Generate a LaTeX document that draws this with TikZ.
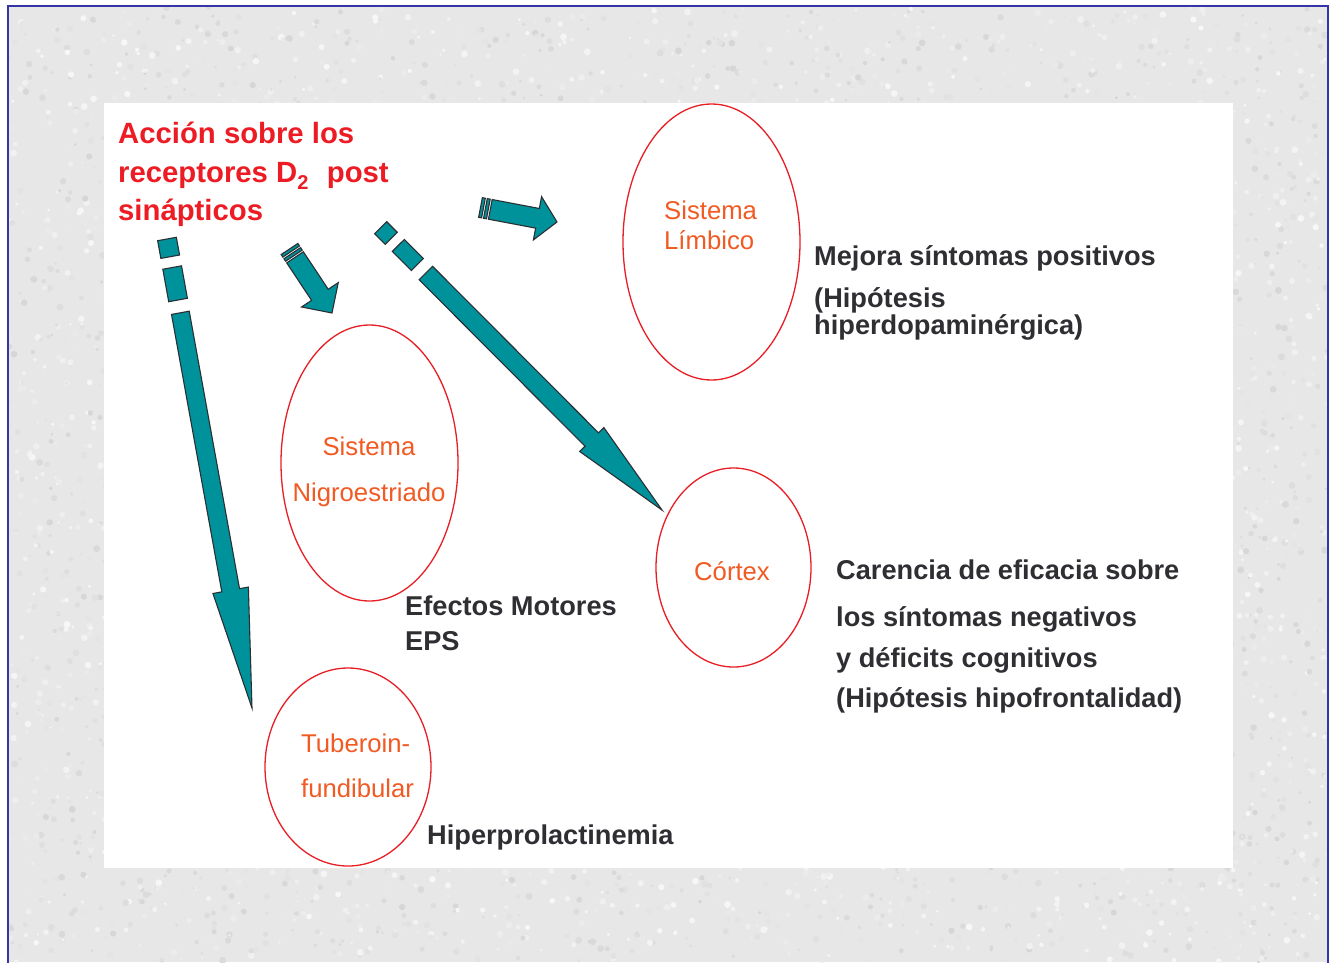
\documentclass[tikz,border=0pt]{standalone}
\usepackage{fontspec}
\setmainfont{Liberation Sans}
\usetikzlibrary{calc,shapes.geometric}
\definecolor{bgtex}{HTML}{E7E7E7}
\definecolor{frameblue}{HTML}{3535A8}
\definecolor{titlered}{HTML}{ED1C24}
\definecolor{orangetxt}{HTML}{F15A22}
\definecolor{darktxt}{HTML}{2E2E33}
\definecolor{ellred}{HTML}{E81E25}
\definecolor{tealfill}{HTML}{00929B}
\definecolor{arrline}{HTML}{2B2F33}
\tikzset{
  arr/.style={fill=tealfill, draw=arrline, line width=1.1pt, line join=miter},
  region/.style={ellipse, draw=ellred, line width=1.3pt, inner sep=0pt},
  orangelbl/.style={text=orangetxt, font=\fontsize{25.7}{25.7}\selectfont, inner sep=0pt},
  darklbl/.style={text=darktxt, font=\fontsize{27.2}{27.2}\selectfont\bfseries, inner sep=0pt, anchor=base west},
  titlelbl/.style={text=titlered, font=\fontsize{29.3}{29.3}\selectfont\bfseries, inner sep=0pt, anchor=base west}
}
% block segment along axis #1 -> #2 from distance #3 to #4, half width #5
\newcommand\segblk[5]{%
  \path ($(#1)!#3!(#2)$) coordinate (q1) ($(#1)!#4!(#2)$) coordinate (q2);
  \filldraw[arr] ($(q1)!#5!90:(#2)$) -- ($(q2)!#5!90:(#2)$) -- ($(q2)!#5!-90:(#2)$) -- ($(q1)!#5!-90:(#2)$) -- cycle;}
% shaft + head: from distance #3 to head base #4, shaft half width #5, head half width #6, tip at #2
\newcommand\headblk[6]{%
  \path ($(#1)!#3!(#2)$) coordinate (q1) ($(#1)!#4!(#2)$) coordinate (q2);
  \filldraw[arr] ($(q1)!#5!90:(#2)$) -- ($(q2)!#5!90:(#2)$) -- ($(q2)!#6!90:(#2)$) -- (#2) -- ($(q2)!#6!-90:(#2)$) -- ($(q2)!#5!-90:(#2)$) -- ($(q1)!#5!-90:(#2)$) -- cycle;}
\begin{document}
\begin{tikzpicture}[x=1pt,y=-1pt]
\useasboundingbox (0,0) rectangle (1336,962);
\fill[white] (0,0) rectangle (1336,962);
% textured background and frame
\fill[bgtex] (8,6) rectangle (1328,962);
\begin{scope}
\clip (9,7) rectangle (1327,962);
\pgfmathsetseed{12}
\foreach \i in {1,...,6000}{
  \pgfmathsetmacro\px{9+1318*rnd}
  \pgfmathsetmacro\py{7+955*rnd}
  \pgfmathsetmacro\pg{84+13*rnd}
  \pgfmathsetmacro\pr{1.3+2.2*rnd}
  \fill[white!\pg!black] (\px,\py) circle (\pr pt);
}
\end{scope}
\draw[frameblue, line width=2pt] (8,970) -- (8,6) -- (1328,6) -- (1328,970);
% white panel
\fill[white] (104,103) rectangle (1233,868);

% regions
\node[region, minimum width=177pt, minimum height=276pt] (limbico) at (711.5,242) {};
\node[region, minimum width=177pt, minimum height=276pt] (nigro) at (369.5,463) {};
\node[region, minimum width=155pt, minimum height=199pt] (cortex) at (733.5,567.5) {};
\node[region, minimum width=166pt, minimum height=198pt] (tubero) at (348,767) {};

% region labels
\node[orangelbl, anchor=base west] (limA) at (664,219) {Sistema};
\node[orangelbl, anchor=base west] (limB) at (664,249) {Límbico};
\node[orangelbl, anchor=base] (nigA) at (369,455) {Sistema};
\node[orangelbl, anchor=base] (nigB) at (369,501) {Nigroestriado};
\node[orangelbl, anchor=base] (corA) at (732,580) {Córtex};
\node[orangelbl, anchor=base west] (tubA) at (301,752) {Tuberoin-};
\node[orangelbl, anchor=base west] (tubB) at (301,797) {fundibular};

% title
\node[titlelbl] (ti1) at (118,143) {Acción sobre los};
\node[titlelbl] (ti2) at (118,182) {receptores D\raisebox{-7pt}{\fontsize{20}{20}\selectfont 2}\hspace{0.35em} post};
\node[titlelbl] (ti3) at (118,220) {sinápticos};

% effect texts
\node[darklbl] (m1) at (814,265) {Mejora síntomas positivos};
\node[darklbl] (m2) at (814,307) {(Hipótesis};
\node[darklbl] (m3) at (814,334) {hiperdopaminérgica)};
\node[darklbl] (c1) at (836,579) {Carencia de eficacia sobre};
\node[darklbl] (c2) at (836,626) {los síntomas negativos};
\node[darklbl] (c3) at (836,667) {y déficits cognitivos};
\node[darklbl] (c4) at (836,707) {(Hipótesis hipofrontalidad)};
\node[darklbl] (e1) at (405,615) {Efectos Motores};
\node[darklbl] (e2) at (405,650) {EPS};
\node[darklbl] (h1) at (427,844) {Hiperprolactinemia};

% arrow anchors
\coordinate (a1s) at (167,239);   \coordinate (a1t) at (252,708);
\coordinate (a2s) at (289.5,249); \coordinate (a2t) at (332,313);
\coordinate (a3s) at (380.7,227.7); \coordinate (a3t) at (662,510);
\coordinate (a4s) at (480.5,207.5); \coordinate (a4t) at (557,222);

% arrow to Tuberoinfundibular (dashed start)
\segblk{a1s}{a1t}{0pt}{18pt}{9.5pt}
\segblk{a1s}{a1t}{29pt}{62pt}{9.5pt}
\headblk{a1s}{a1t}{75pt}{357pt}{9pt}{18pt}

% arrow to Nigroestriado (striped tail)
\segblk{a2s}{a2t}{0pt}{3pt}{10pt}
\segblk{a2s}{a2t}{5pt}{8pt}{10pt}
\headblk{a2s}{a2t}{10pt}{55pt}{10pt}{22pt}

% arrow to Cortex (dashed start)
\segblk{a3s}{a3t}{0pt}{15pt}{8.5pt}
\segblk{a3s}{a3t}{25pt}{52pt}{8.5pt}
\headblk{a3s}{a3t}{64pt}{299pt}{9.5pt}{17pt}

% arrow to Limbico (striped tail)
\segblk{a4s}{a4t}{0pt}{3pt}{10pt}
\segblk{a4s}{a4t}{5pt}{8pt}{10pt}
\headblk{a4s}{a4t}{10pt}{58pt}{10pt}{22pt}
\end{tikzpicture}
\end{document}
